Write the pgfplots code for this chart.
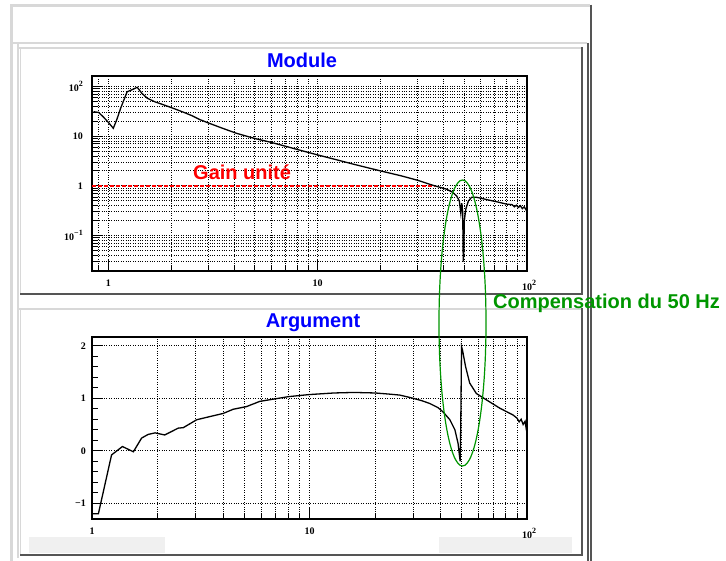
\documentclass[border=0pt]{standalone}
\usepackage{fontspec}
\setmainfont{Liberation Sans}
\newfontfamily\tickfont{Liberation Serif}
\usepackage{pgfplots}
\pgfplotsset{compat=1.18}
\definecolor{lg}{RGB}{216,216,216}
\definecolor{dg}{RGB}{85,85,85}
\definecolor{rootgreen}{RGB}{0,150,0}
\newcommand{\sups}[1]{\raisebox{5pt}{\fontsize{8}{8}\selectfont #1}}
\begin{document}
\begin{tikzpicture}
\path[use as bounding box] (0,0) rectangle (726pt,561pt);
\fill[white] (0,0) rectangle (726pt,561pt);
\begin{scope}[x=1pt,y=-1pt,yshift=561pt]
 \draw[lg,line width=3pt] (11.5,561)--(11.5,6)--(590,6);
 \draw[dg,line width=2.5pt] (591,4.7)--(591,561);
 \draw[lg,line width=2.5pt] (12,43)--(587,43);
 \draw[lg,line width=2pt] (18.3,44)--(18.3,558);
 \draw[dg,line width=2pt] (587.5,43)--(587.5,561);
 \draw[lg,line width=2pt] (19,48)--(583,48);
 \draw[lg,line width=1.5pt] (20.5,48)--(20.5,294);
 \draw[dg,line width=2.5pt] (582,47)--(582,295);
 \draw[dg,line width=2pt] (20,294)--(583,294);
 \draw[lg,line width=2.5pt] (19,308.8)--(583,308.8);
 \draw[lg,line width=1.5pt] (20.5,308)--(20.5,555);
 \draw[dg,line width=2.5pt] (582,308)--(582,556);
 \draw[dg,line width=2pt] (20,555)--(583,555);
 \fill[gray!12] (29,537) rectangle (165,553);
 \fill[gray!12] (439,537) rectangle (572,553);
\end{scope}

\pgfplotsset{rootaxis/.style={
 scale only axis, anchor=south west,
 axis line style={line width=1.8pt},
 tick pos=left, tick align=inside,
 major tick length=11pt, minor tick length=6pt,
 tick style={black, line width=0.9pt},
 major grid style={dotted, black, line width=0.9pt},
 minor grid style={dotted, black, line width=0.9pt},
 ticklabel style={font=\tickfont\bfseries\fontsize{10}{11}\selectfont},
 xticklabel style={anchor=north, inner sep=0pt, yshift=-9pt},
 yticklabel style={anchor=east, inner sep=0pt, xshift=-9pt},
}}

% Module
\begin{axis}[rootaxis, at={(92pt,290pt)}, width=435pt, height=195pt,
 xmode=log, ymode=log, xmin=0.836, xmax=100, ymin=0.0195, ymax=162,
 xtick={1,10,100}, xticklabels={1,10,{10\rlap{\sups{2}}}},
 minor xtick={0.9,2,3,4,5,6,7,8,9,20,30,40,50,60,70,80,90},
 ytick={0.1,1,10,100}, yticklabels={{10\sups{−1}},1,10,{10\sups{2}}},
 minor ytick={0.02,0.03,0.04,0.05,0.06,0.07,0.08,0.09,0.2,0.3,0.4,0.5,0.6,0.7,0.8,0.9,2,3,4,5,6,7,8,9,20,30,40,50,60,70,80,90},
 xmajorgrids, xminorgrids, ymajorgrids, yminorgrids]
\addplot[red, line width=1.3pt, dash pattern=on 4pt off 2pt] coordinates {(0.836,1) (36,1)};
\addplot[black, line width=1.3pt] coordinates {
(0.85,31) (0.9,30) (0.95,24) (1.0,19) (1.057,14.4) (1.1,22) (1.15,38) (1.23,78) (1.3,86) (1.375,96)
(1.45,72) (1.535,58) (1.67,49) (1.8,44) (2.04,36.4) (2.3,30) (2.5,26) (2.74,21.5) (3.0,18.5) (3.5,14.5)
(4.1,11.4) (5,9.0) (6,7.5) (7,6.3) (8,5.4) (10,4.2) (12,3.45) (15,2.7) (20,2.0) (25,1.6) (30,1.3)
(35,1.05) (38,0.95) (41.3,0.86) (44,0.75) (46.1,0.63) (47.5,0.50) (48.3,0.28) (48.8,0.45) (49.3,0.3)
(49.6,0.03) (49.9,0.05) (50.2,0.2) (51,0.34) (52.5,0.5) (54.4,0.59) (57.5,0.59) (62,0.55) (67,0.51)
(71.7,0.48) (80,0.43) (85,0.42) (87,0.38) (89,0.41) (91,0.37) (93,0.40) (95,0.35) (97,0.38) (99,0.33) (100,0.36)};
\end{axis}

% Argument
\begin{axis}[rootaxis, at={(92pt,42pt)}, width=435pt, height=182pt,
 xmode=log, xmin=1, xmax=100, ymin=-1.30, ymax=2.166,
 xtick={1,10,100}, xticklabels={1,10,{10\rlap{\sups{2}}}},
 minor xtick={2,3,4,5,6,7,8,9,20,30,40,50,60,70,80,90},
 ytick={-1,0,1,2}, yticklabels={−1,0,1,2}, minor y tick num=4,
 yticklabel style={xshift=3pt},
 xmajorgrids, xminorgrids, ymajorgrids]
\addplot[black, line width=1.3pt] coordinates {
(1.0,-1.2) (1.07,-1.2) (1.23,-0.08) (1.38,0.08) (1.55,-0.02) (1.69,0.24) (1.81,0.31) (1.95,0.34)
(2.16,0.30) (2.49,0.43) (2.63,0.44) (3.03,0.59) (3.48,0.65) (4.01,0.71) (4.46,0.79) (5.13,0.84)
(5.91,0.94) (7,0.99) (8,1.03) (10,1.07) (13,1.10) (16,1.11) (20,1.10) (23,1.08) (26,1.06) (29.9,1.0)
(33,0.95) (35.7,0.9) (39,0.82) (41.1,0.74) (44.2,0.59) (46.6,0.40) (48.2,0.14) (49.1,-0.15) (49.3,-0.2)
(49.6,0.5) (50.0,1.98) (50.5,1.92) (52.2,1.6) (54.5,1.29) (58.5,1.09) (65,0.97) (75,0.81) (86.3,0.68)
(90,0.62) (92,0.55) (94,0.60) (96,0.50) (98,0.56) (99,0.44) (100,0.52)};
\end{axis}

\begin{scope}[x=1pt,y=-1pt,yshift=561pt]
 \node[anchor=base, inner sep=0pt, text={rgb,255:red,0;green,0;blue,255}, font=\bfseries\fontsize{20}{24}\selectfont] at (302,68) {Module};
 \node[anchor=base, inner sep=0pt, text={rgb,255:red,0;green,0;blue,255}, font=\bfseries\fontsize{20}{24}\selectfont] at (313,328) {Argument};
 \node[anchor=base west, inner sep=0pt, text=red, font=\bfseries\fontsize{20}{24}\selectfont] at (193,179.3) {Gain unité};
 \draw[rootgreen, line width=1.2pt] (462.5,323) ellipse [x radius=23.5pt, y radius=143pt];
 \node[anchor=base west, inner sep=0pt, text=rootgreen, font=\bfseries\fontsize{20}{24}\selectfont] at (493,309) {Compensation du 50 Hz};
\end{scope}
\end{tikzpicture}
\end{document}
